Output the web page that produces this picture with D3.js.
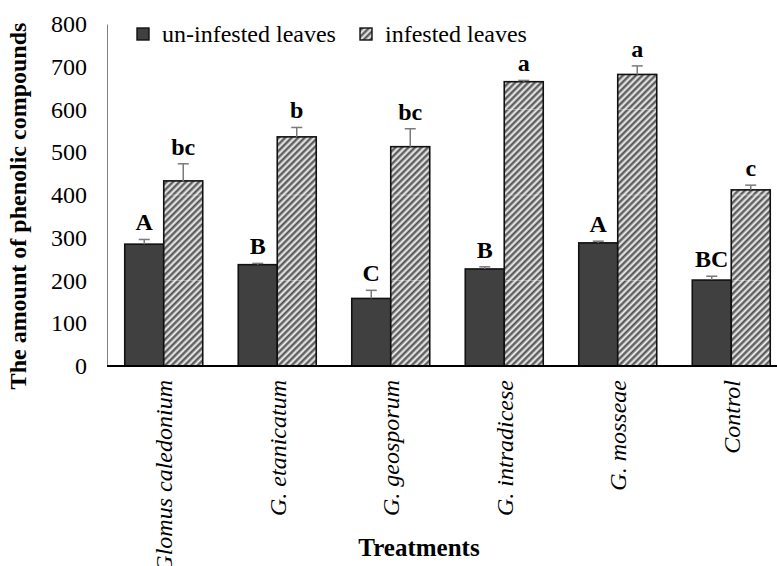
<!DOCTYPE html>
<html>
<head>
<meta charset="utf-8">
<script src="https://cdn.jsdelivr.net/npm/d3@7"></script>
<style>
  html, body { margin: 0; padding: 0; background: #fff; }
  svg { display: block; }
  text { font-family: "Liberation Serif", "Times New Roman", serif; fill: #000; }
</style>
</head>
<body>
<svg id="chart" width="777" height="566"></svg>
<script>
// Treatments on the x axis
const treatments = ["Glomus caledonium", "G. etanicatum", "G. geosporum", "G. intradicese", "G. mosseae", "Control"];
// Series
const seriesNames = ["un-infested leaves", "infested leaves"];
const uninfested = [285, 237, 158, 227, 288, 201];
const infested = [433, 536, 513, 665, 682, 412];
// Standard errors (upper whiskers)
const uninfestedErr = [11, 3, 19, 5, 4, 9];
const infestedErr = [40, 22, 42, 3, 20, 11];
// Significance letters
const uninfestedLetters = ["A", "B", "C", "B", "A", "BC"];
const infestedLetters = ["bc", "b", "bc", "a", "a", "c"];
// Y axis ticks
const yTicks = [0, 100, 200, 300, 400, 500, 600, 700, 800];

const svg = d3.select("#chart");

const plotLeft = 107, plotRight = 788, plotTop = 24, plotBottom = 366;

const x = d3.scaleBand().domain(treatments).range([plotLeft, plotRight]).paddingInner(0.313).paddingOuter(0.1565);
const xs = d3.scaleBand().domain(seriesNames).range([0, x.bandwidth()]).padding(0);
const y = d3.scaleLinear().domain([0, 800]).range([plotBottom, plotTop]);

// Diagonal hatch for the infested series
const defs = svg.append("defs");
const pat = defs.append("pattern")
  .attr("id", "hatch")
  .attr("patternUnits", "userSpaceOnUse")
  .attr("width", 4.6).attr("height", 4.6)
  .attr("patternTransform", "rotate(45)");
pat.append("rect").attr("width", 4.6).attr("height", 4.6).attr("fill", "#f4f4f4");
pat.append("rect").attr("x", 0.3).attr("width", 1.4).attr("height", 4.6).attr("fill", "#8a8a8a");
pat.append("rect").attr("x", 1.0).attr("width", 1.6).attr("height", 4.6).attr("fill", "#4a4a4a");
pat.append("rect").attr("x", 2.6).attr("width", 0.8).attr("height", 4.6).attr("fill", "#9a9a9a");

const rows = treatments.map((t, i) => ({
  t,
  vals: [
    { s: seriesNames[0], v: uninfested[i], e: uninfestedErr[i], l: uninfestedLetters[i] },
    { s: seriesNames[1], v: infested[i], e: infestedErr[i], l: infestedLetters[i] }
  ]
}));

const fills = { "un-infested leaves": "#404040", "infested leaves": "url(#hatch)" };

// Y axis: gray line, labels only
const yAxis = svg.append("g")
  .attr("transform", `translate(${plotLeft},0)`)
  .call(d3.axisLeft(y).tickValues(yTicks).tickSize(0).tickPadding(20).tickFormat(d3.format("d")));
yAxis.select(".domain").attr("stroke", "#808080").attr("stroke-width", 1);
yAxis.selectAll("text")
  .style("font-family", "'Liberation Serif', serif")
  .style("font-size", "24px")
  .attr("fill", "#000");

const groups = svg.append("g").selectAll("g")
  .data(rows).join("g")
  .attr("transform", d => `translate(${x(d.t)},0)`);

groups.selectAll("rect.bar")
  .data(d => d.vals).join("rect")
  .attr("class", "bar")
  .attr("x", d => xs(d.s))
  .attr("y", d => y(d.v))
  .attr("width", xs.bandwidth())
  .attr("height", d => y(0) - y(d.v))
  .attr("fill", d => fills[d.s])
  .attr("stroke", "#111")
  .attr("stroke-width", 1.6);

// Faint gridlines showing through the hatched bars
groups.each(function (d) {
  const g = d3.select(this);
  const hv = d.vals[1];
  [200, 400, 600].filter(v => v < hv.v).forEach(v => {
    g.append("line")
      .attr("x1", xs(hv.s) + 1).attr("x2", xs(hv.s) + xs.bandwidth() - 1)
      .attr("y1", y(v)).attr("y2", y(v))
      .attr("stroke", "#ffffff").attr("stroke-opacity", 0.35).attr("stroke-width", 1);
  });
});

// Upper error whiskers
const eb = groups.selectAll("g.err")
  .data(d => d.vals).join("g").attr("class", "err");
eb.append("line")
  .attr("x1", d => xs(d.s) + xs.bandwidth() / 2)
  .attr("x2", d => xs(d.s) + xs.bandwidth() / 2)
  .attr("y1", d => y(d.v))
  .attr("y2", d => y(d.v + d.e))
  .attr("stroke", "#7a7a7a").attr("stroke-width", 1.5);
eb.append("line")
  .attr("x1", d => xs(d.s) + xs.bandwidth() / 2 - 5.5)
  .attr("x2", d => xs(d.s) + xs.bandwidth() / 2 + 5.5)
  .attr("y1", d => y(d.v + d.e))
  .attr("y2", d => y(d.v + d.e))
  .attr("stroke", "#7a7a7a").attr("stroke-width", 1.5);

// Significance letters
groups.selectAll("text.letter")
  .data(d => d.vals).join("text")
  .attr("class", "letter")
  .attr("x", d => xs(d.s) + xs.bandwidth() / 2)
  .attr("y", d => y(d.v + d.e) - 9)
  .attr("text-anchor", "middle")
  .style("font-size", "24px")
  .style("font-weight", "bold")
  .text(d => d.l);

// X axis baseline
svg.append("line")
  .attr("x1", plotLeft).attr("x2", plotRight)
  .attr("y1", y(0)).attr("y2", y(0))
  .attr("stroke", "#000").attr("stroke-width", 2);

// Rotated treatment labels
svg.append("g").selectAll("text")
  .data(treatments).join("text")
  .attr("transform", d => `translate(${x(d) + x.bandwidth() / 2},380) rotate(-90)`)
  .attr("text-anchor", "end")
  .attr("dy", "0.35em")
  .style("font-size", "24px")
  .style("font-style", "italic")
  .text(d => d);

// Axis titles
svg.append("text")
  .attr("x", 419).attr("y", 556)
  .attr("text-anchor", "middle")
  .style("font-size", "25px")
  .style("font-weight", "bold")
  .text("Treatments");

svg.append("text")
  .attr("transform", "translate(18,206) rotate(-90)")
  .attr("text-anchor", "middle")
  .attr("dy", "0.35em")
  .style("font-size", "24px")
  .style("font-weight", "bold")
  .text("The amount of phenolic compounds");

// Legend
const legendX = [137, 360];
const lg = svg.append("g").selectAll("g")
  .data(seriesNames).join("g")
  .attr("transform", (d, i) => `translate(${legendX[i]},28)`);
lg.append("rect")
  .attr("width", 12).attr("height", 12)
  .attr("fill", d => fills[d])
  .attr("stroke", "#111").attr("stroke-width", 1.4);
lg.append("text")
  .attr("x", 25).attr("y", 13.5)
  .style("font-size", "24px")
  .text(d => d);
</script>
</body>
</html>
